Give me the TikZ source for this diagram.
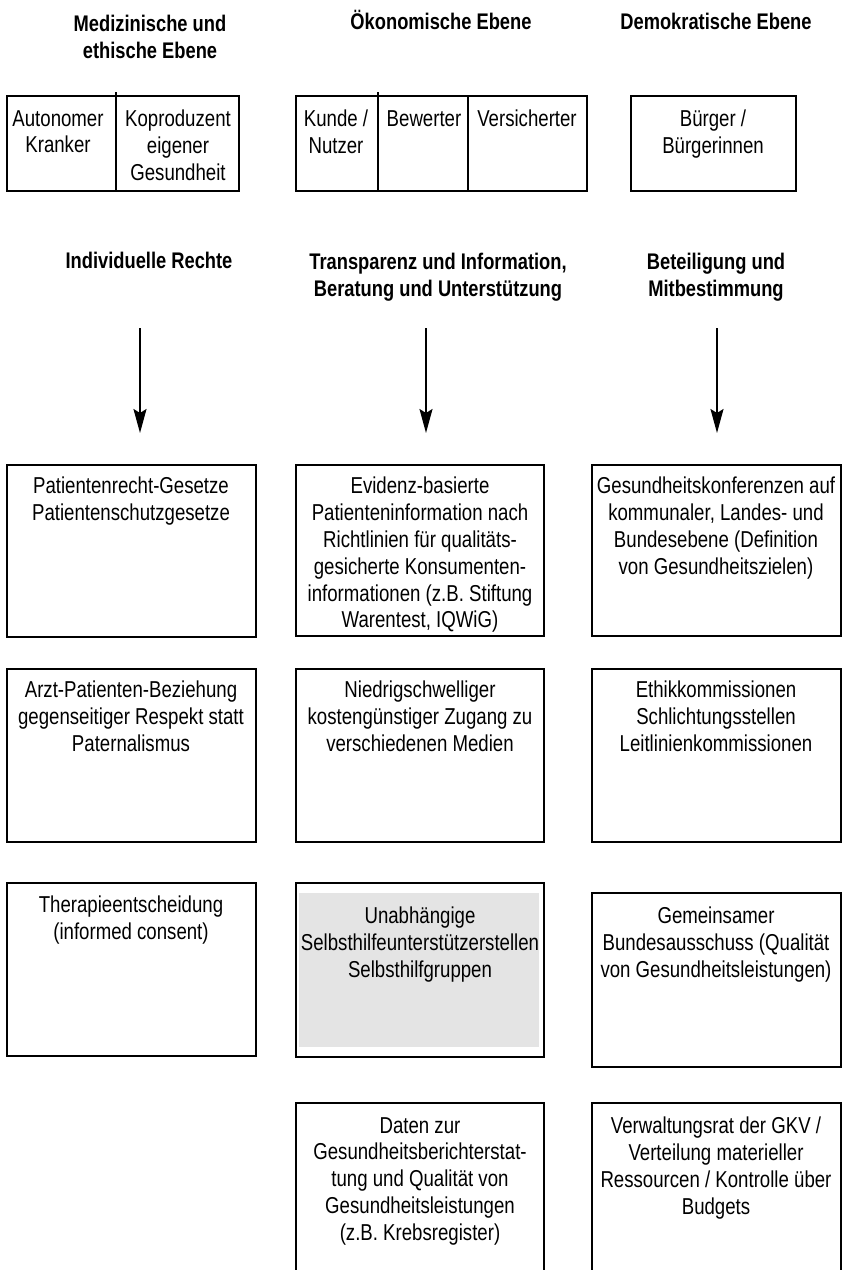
\documentclass[tikz,border=0pt]{standalone}
\usepackage{fontspec}
\setmainfont{Liberation Sans}[FakeStretch=0.81]
\usetikzlibrary{arrows.meta}
\definecolor{fillgray}{HTML}{E4E4E4}
\begin{document}
\begin{tikzpicture}[x=1pt,y=-1pt,
  box/.style={draw=black, line width=1.4pt, rectangle, inner sep=0pt, outer sep=0pt, anchor=north west},
  txt/.style={font=\fontsize{23}{26.8}\selectfont, align=center, inner sep=0pt, anchor=north},
  hd/.style={font=\fontsize{22.6}{26.8}\selectfont\bfseries, align=center, inner sep=0pt, anchor=north},
  arr/.style={line width=1.8pt, -{Stealth[length=24pt,width=13pt,inset=4pt]}}
]
\clip (0,0) rectangle (843,1270);
% titles
\node[hd] (h1) at (150,15) {Medizinische und\\ethische Ebene};
\node[hd, anchor=base] (h2) at (441,29) {Ökonomische Ebene};
\node[hd, anchor=base] (h3) at (716,29) {Demokratische Ebene};
% top boxes
\node[box, minimum width=109, minimum height=95] (c11) at (7,96) {};
\node[box, minimum width=123, minimum height=95] (c12) at (116,96) {};
\node[box, minimum width=82, minimum height=95] (c21) at (296,96) {};
\node[box, minimum width=90, minimum height=95] (c22) at (378,96) {};
\node[box, minimum width=119, minimum height=95] (c23) at (468,96) {};
\node[box, minimum width=165, minimum height=95] (c31) at (631,96) {};
\draw[line width=1.2pt] (c11.north east) -- ++(0,-4);
\draw[line width=1.2pt] (c21.north east) -- ++(0,-4);
\node[txt] (t11) at (58,110) {Autonomer\\Kranker};
\node[txt] (t12) at (178,110) {Koproduzent\\eigener\\Gesundheit};
\node[txt] (t21) at (336,110) {Kunde /\\Nutzer};
\node[txt] (t22) at (424,110) {Bewerter};
\node[txt] (t23) at (527,110) {Versicherter};
\node[txt] (t31) at (713,110) {Bürger /\\Bürgerinnen};
% second headings
\node[hd] (g1) at (149,252) {Individuelle Rechte};
\node[hd] (g2) at (438,253) {Transparenz und Information,\\Beratung und Unterstützung};
\node[hd] (g3) at (716,253) {Beteiligung und\\Mitbestimmung};
% arrows
\coordinate (a1s) at (140,328); \coordinate (a1e) at (140,433);
\coordinate (a2s) at (426,328); \coordinate (a2e) at (426,433);
\coordinate (a3s) at (717,328); \coordinate (a3e) at (717,433);
\draw[arr] (a1s) -- (a1e);
\draw[arr] (a2s) -- (a2e);
\draw[arr] (a3s) -- (a3e);
% row A
\node[box, minimum width=249, minimum height=172] (bA1) at (7,465) {};
\node[box, minimum width=248, minimum height=171] (bA2) at (296,465) {};
\node[box, minimum width=249, minimum height=171] (bA3) at (592,465) {};
\node[txt] (tA1) at (131,477) {Patientenrecht-Gesetze\\Patientenschutzgesetze};
\node[txt] (tA2) at (420,477) {Evidenz-basierte\\Patienteninformation nach\\Richtlinien für qualitäts-\\gesicherte Konsumenten-\\informationen (z.B. Stiftung\\Warentest, IQWiG)};
\node[txt] (tA3) at (716,477) {Gesundheitskonferenzen auf\\kommunaler, Landes- und\\Bundesebene (Definition\\von Gesundheitszielen)};
% row B
\node[box, minimum width=249, minimum height=173] (bB1) at (7,669) {};
\node[box, minimum width=248, minimum height=173] (bB2) at (296,669) {};
\node[box, minimum width=249, minimum height=173] (bB3) at (592,669) {};
\node[txt] (tB1) at (131,681) {Arzt-Patienten-Beziehung\\gegenseitiger Respekt statt\\Paternalismus};
\node[txt] (tB2) at (420,681) {Niedrigschwelliger\\kostengünstiger Zugang zu\\verschiedenen Medien};
\node[txt] (tB3) at (716,681) {Ethikkommissionen\\Schlichtungsstellen\\Leitlinienkommissionen};
% row C
\fill[fillgray] (299,893) rectangle (539,1047);
\node[box, minimum width=249, minimum height=173] (bC1) at (7,883) {};
\node[box, minimum width=248, minimum height=174] (bC2) at (296,883) {};
\node[box, minimum width=249, minimum height=174] (bC3) at (592,893) {};
\node[txt] (tC1) at (131,896) {Therapieentscheidung\\(informed consent)};
\node[txt] (tC2) at (420,907) {Unabhängige\\Selbsthilfeunterstützerstellen\\Selbsthilfgruppen};
\node[txt] (tC3) at (716,907) {Gemeinsamer\\Bundesausschuss (Qualität\\von Gesundheitsleistungen)};
% row D
\node[box, minimum width=248, minimum height=200] (bD2) at (296,1103) {};
\node[box, minimum width=249, minimum height=200] (bD3) at (592,1103) {};
\node[txt] (tD2) at (420,1117) {Daten zur\\Gesundheitsberichterstat-\\tung und Qualität von\\Gesundheitsleistungen\\(z.B. Krebsregister)};
\node[txt] (tD3) at (716,1117) {Verwaltungsrat der GKV /\\Verteilung materieller\\Ressourcen / Kontrolle über\\Budgets};
\end{tikzpicture}
\end{document}
